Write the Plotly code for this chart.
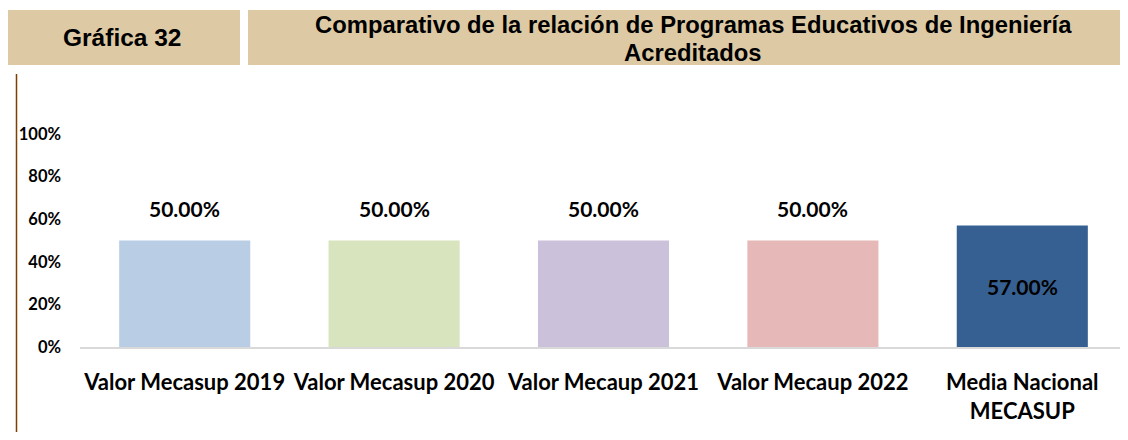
import plotly.graph_objects as go

categories = ["Valor Mecasup 2019", "Valor Mecasup 2020", "Valor Mecaup 2021",
              "Valor Mecaup 2022", "Media Nacional<br>MECASUP"]
values = [0.50, 0.50, 0.50, 0.50, 0.57]
bar_colors = ["#B9CDE5", "#D7E4BD", "#CCC1DA", "#E6B9B8", "#376092"]
y_ticks = [0, 0.2, 0.4, 0.6, 0.8, 1.0]
y_tick_labels = ["0%", "20%", "40%", "60%", "80%", "100%"]
header_left = "Gráfica 32"
header_title_lines = ["Comparativo de la relación de Programas Educativos de Ingeniería",
                      "Acreditados"]

# page body has an 8px default margin; the figure is sized so the page fits the window
OFF = 8
W, H = 1128 - 2 * OFF, 440 - 2 * OFF
# plot area in screen pixels
SX0, SX1, SY0, SY1 = 80, 1127, 134, 347
L = SX0 - OFF
T = SY0 - OFF
B = H - (SY1 - OFF)
R = 0
pw = W - L - R
ph = H - T - B
cat_step = (SX1 - SX0) / len(categories)
x_range = [-0.5, -0.5 + pw / cat_step]


def px(x):
    return (x - OFF - L) / pw


def py(y):
    return (H - B - (y - OFF)) / ph


TAN = "#DDCAA5"
LABEL_FONT = "Lato"

fig = go.Figure()
fig.add_trace(go.Bar(
    x=list(range(len(categories))), y=values,
    marker=dict(color=bar_colors, line=dict(width=0)),
    hoverinfo="skip", showlegend=False,
))

annotations = []
for i, v in enumerate(values):
    last = i == len(values) - 1
    annotations.append(dict(
        x=i, y=v / 2 if last else v, xref="x", yref="y",
        yshift=0 if last else 32,
        text=f"{v * 100:.2f}%", showarrow=False,
        font=dict(family=LABEL_FONT, size=21, color="#000000", weight="bold"),
    ))

annotations.append(dict(
    x=px(122), y=py(38), xref="paper", yref="paper", text=header_left,
    showarrow=False, xanchor="center", yanchor="middle",
    font=dict(family="Liberation Sans", size=24.5, color="#000000", weight="bold"),
))
for line, yc in zip(header_title_lines, [24.5, 52]):
    annotations.append(dict(
        x=px(693), y=py(yc), xref="paper", yref="paper", text=line,
        showarrow=False, xanchor="center", yanchor="middle",
        font=dict(family="Liberation Sans", size=23.8, color="#000000", weight="bold"),
    ))

shapes = [
    dict(type="rect", xref="paper", yref="paper", x0=px(6), x1=px(240), y0=py(65), y1=py(10),
         fillcolor=TAN, line=dict(width=0), layer="below"),
    dict(type="rect", xref="paper", yref="paper", x0=px(248), x1=px(1130), y0=py(65), y1=py(10),
         fillcolor=TAN, line=dict(width=0), layer="below"),
    dict(type="line", xref="paper", yref="paper", x0=px(16.5), x1=px(16.5), y0=py(74), y1=py(445),
         line=dict(color="#7F3F00", width=1.5)),
]

fig.update_layout(
    width=W, height=H,
    margin=dict(l=L, r=R, t=T, b=B, pad=0),
    paper_bgcolor="#FFFFFF", plot_bgcolor="#FFFFFF",
    bargap=0.374,
    annotations=annotations, shapes=shapes,
    xaxis=dict(
        range=x_range, tickmode="array",
        tickvals=list(range(len(categories))), ticktext=categories,
        tickangle=0, showgrid=False, zeroline=False,
        showline=True, linecolor="#D9D9D9", linewidth=2,
        ticks="", ticklabelstandoff=15,
        tickfont=dict(family=LABEL_FONT, size=22, color="#000000", weight="bold"),
    ),
    yaxis=dict(
        range=[0, 1.0], tickvals=y_ticks, ticktext=y_tick_labels,
        showgrid=False, zeroline=False, showline=False, ticks="",
        ticklabelstandoff=18,
        tickfont=dict(family=LABEL_FONT, size=16.5, color="#000000", weight="bold"),
    ),
)

fig.write_html("out.html")
